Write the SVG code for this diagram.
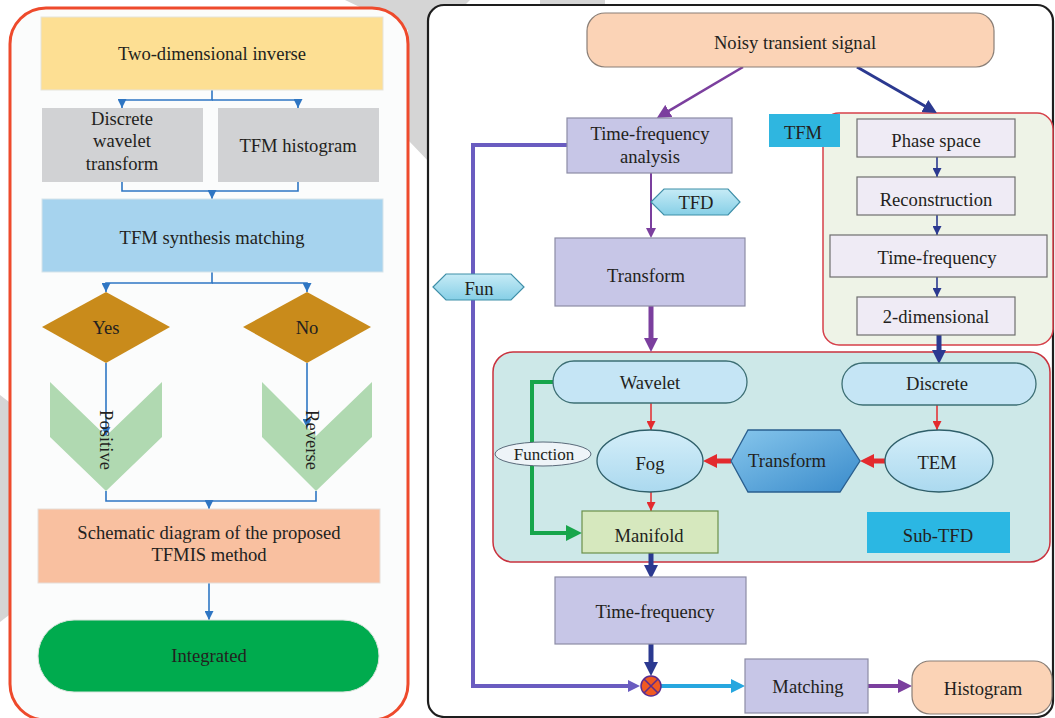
<svg xmlns="http://www.w3.org/2000/svg" width="1055" height="718" viewBox="0 0 1055 718">
<style>
.t{font-family:"Liberation Serif","Times New Roman",serif;font-size:18.6px;fill:#231f20;text-anchor:middle;dominant-baseline:central}
.s17{font-size:17px}
.lb{fill:none;stroke:#2f76c3;stroke-width:1.6}
.box{stroke:#8c8ca6;stroke-width:1.2}
.ps{fill:#efebf5;stroke:#6e6e6e;stroke-width:1.2}
</style>
<defs>
<marker id="mBlue" viewBox="0 0 10 10" refX="10" refY="5" markerWidth="9" markerHeight="9" markerUnits="userSpaceOnUse" orient="auto"><path d="M0,0L10,5L0,10z" fill="#2f76c3"/></marker>
<marker id="mPurL" viewBox="0 0 14 14" refX="1" refY="7" markerWidth="14" markerHeight="15" markerUnits="userSpaceOnUse" orient="auto"><path d="M0,0L14,7L0,14z" fill="#7b3f9e"/></marker>
<marker id="mPurS" viewBox="0 0 10 10" refX="1" refY="5" markerWidth="10" markerHeight="11" markerUnits="userSpaceOnUse" orient="auto"><path d="M0,0L10,5L0,10z" fill="#7b3f9e"/></marker>
<marker id="mNavL" viewBox="0 0 14 14" refX="1" refY="7" markerWidth="14" markerHeight="16" markerUnits="userSpaceOnUse" orient="auto"><path d="M0,0L14,7L0,14z" fill="#2b3990"/></marker>
<marker id="mNavS" viewBox="0 0 10 10" refX="10" refY="5" markerWidth="9" markerHeight="9" markerUnits="userSpaceOnUse" orient="auto"><path d="M0,0L10,5L0,10z" fill="#2b3990"/></marker>
<marker id="mRedS" viewBox="0 0 10 10" refX="10" refY="5" markerWidth="9" markerHeight="9" markerUnits="userSpaceOnUse" orient="auto"><path d="M0,0L10,5L0,10z" fill="#e32a2e"/></marker>
<marker id="mRedL" viewBox="0 0 14 14" refX="1" refY="7" markerWidth="14" markerHeight="16" markerUnits="userSpaceOnUse" orient="auto"><path d="M0,0L14,7L0,14z" fill="#e32a2e"/></marker>
<marker id="mGrn" viewBox="0 0 14 14" refX="1" refY="7" markerWidth="16" markerHeight="17" markerUnits="userSpaceOnUse" orient="auto"><path d="M0,0L14,7L0,14z" fill="#17a54b"/></marker>
<marker id="mFun" viewBox="0 0 12 12" refX="1" refY="6" markerWidth="12" markerHeight="13" markerUnits="userSpaceOnUse" orient="auto"><path d="M0,0L12,6L0,12z" fill="#6a5cc0"/></marker>
<marker id="mCyan" viewBox="0 0 14 14" refX="1" refY="7" markerWidth="14" markerHeight="15" markerUnits="userSpaceOnUse" orient="auto"><path d="M0,0L14,7L0,14z" fill="#27a7df"/></marker>
<linearGradient id="gHex" x1="0" y1="0" x2="1" y2="1"><stop offset="0" stop-color="#86c6ec"/><stop offset="1" stop-color="#3a8bcb"/></linearGradient>
<linearGradient id="gEl" x1="0" y1="0" x2="0" y2="1"><stop offset="0" stop-color="#d4eef9"/><stop offset="1" stop-color="#abd9ef"/></linearGradient>
<linearGradient id="gTfd" x1="0" y1="0" x2="0" y2="1"><stop offset="0" stop-color="#c6ebf6"/><stop offset="1" stop-color="#86cfe6"/></linearGradient>
</defs>
<rect width="1055" height="718" fill="#ffffff"/>
<g id="watermark" fill="#d5d5d5">
<polygon points="345,0 470,0 432,38 432,165 408,140 408,30"/>
<polygon points="540,0 605,0 605,6 540,6"/>
<polygon points="0,395 13,405 13,612 0,622"/>
</g>
<g id="panel-left"><rect x="10" y="8" width="398" height="712" rx="36" fill="#fbfcfc" stroke="#ee4a2c" stroke-width="3"/></g>
<g id="panel-right"><rect x="428" y="5" width="625" height="712" rx="16" fill="#ffffff" stroke="#1e1e1e" stroke-width="2.2"/></g>
<g id="tfm-group"><rect x="823" y="113" width="230" height="232" rx="16" fill="#eef3e7" stroke="#d6404a" stroke-width="1.5"/></g>
<g id="sub-tfd-group"><rect x="493" y="352" width="557" height="210" rx="20" fill="#cde8e8" stroke="#c9323e" stroke-width="1.5"/></g>

<g id="connectors">
<path class="lb" d="M212,90V100H122V108" marker-end="url(#mBlue)"/>
<path class="lb" d="M212,100H298V108" marker-end="url(#mBlue)"/>
<path class="lb" d="M122,182V191H298V182"/>
<path class="lb" d="M212,191V199" marker-end="url(#mBlue)"/>
<path class="lb" d="M212,272V283H106V292" marker-end="url(#mBlue)"/>
<path class="lb" d="M212,283H307V292" marker-end="url(#mBlue)"/>
<path class="lb" d="M106,363V436" marker-end="url(#mBlue)"/>
<path class="lb" d="M307,363V428" marker-end="url(#mBlue)"/>
<path class="lb" d="M106,491V501H316V491"/>
<path class="lb" d="M209,501V509" marker-end="url(#mBlue)"/>
<path class="lb" d="M209,583V620" marker-end="url(#mBlue)"/>

<path d="M743,67L668,111.4" stroke="#7b3f9e" stroke-width="2.6" fill="none" marker-end="url(#mPurL)"/>
<path d="M857,67L925.7,106.5" stroke="#2b3990" stroke-width="3" fill="none" marker-end="url(#mNavL)"/>
<path d="M651,173V229" stroke="#7b3f9e" stroke-width="2" fill="none" marker-end="url(#mPurS)"/>
<path d="M651,306V339" stroke="#7b3f9e" stroke-width="5" fill="none" marker-end="url(#mPurL)"/>
<path d="M567,145H473V686H629" stroke="#6a5cc0" stroke-width="4" fill="none" marker-end="url(#mFun)"/>
<path d="M937,157V177" stroke="#2b3990" stroke-width="1.6" fill="none" marker-end="url(#mNavS)"/>
<path d="M937,215V235" stroke="#2b3990" stroke-width="1.6" fill="none" marker-end="url(#mNavS)"/>
<path d="M937,277V297" stroke="#2b3990" stroke-width="1.6" fill="none" marker-end="url(#mNavS)"/>
<path d="M939,335V351" stroke="#2b3990" stroke-width="5" fill="none" marker-end="url(#mNavL)"/>
<path d="M651,403V430" stroke="#e32a2e" stroke-width="1.5" fill="none" marker-end="url(#mRedS)"/>
<path d="M651,492V511" stroke="#e32a2e" stroke-width="1.5" fill="none" marker-end="url(#mRedS)"/>
<path d="M937,405V430" stroke="#e32a2e" stroke-width="1.5" fill="none" marker-end="url(#mRedS)"/>
<path d="M885,461H873" stroke="#e32a2e" stroke-width="5" fill="none" marker-end="url(#mRedL)"/>
<path d="M731,461H716" stroke="#e32a2e" stroke-width="5" fill="none" marker-end="url(#mRedL)"/>
<path d="M553,382H532V533H567" stroke="#17a54b" stroke-width="4" fill="none" marker-end="url(#mGrn)"/>
<path d="M651,553V566" stroke="#2b3990" stroke-width="5" fill="none" marker-end="url(#mNavL)"/>
<path d="M651,644V663" stroke="#2b3990" stroke-width="5" fill="none" marker-end="url(#mNavL)"/>
<path d="M661,686H732" stroke="#27a7df" stroke-width="4" fill="none" marker-end="url(#mCyan)"/>
<path d="M868,686H899" stroke="#7b3f9e" stroke-width="4" fill="none" marker-end="url(#mPurL)"/>
</g>

<g id="two-dimensional-inverse"><rect x="41" y="17" width="342" height="73" fill="#fddf93" stroke="#e6e3da" stroke-width="1"/><text class="t" x="212" y="53">Two-dimensional inverse</text></g>
<g id="discrete-wavelet-transform"><rect x="42" y="108" width="161" height="74" fill="#d1d2d4"/><text class="t" x="122" y="118">Discrete</text><text class="t" x="122" y="140">wavelet</text><text class="t" x="122" y="163">transform</text></g>
<g id="tfm-histogram"><rect x="218" y="108" width="161" height="74" fill="#d1d2d4"/><text class="t" x="298" y="145">TFM histogram</text></g>
<g id="tfm-synthesis-matching"><rect x="42" y="199" width="341" height="73" fill="#a6d3ee" stroke="#d6e3ea" stroke-width="1"/><text class="t" x="212" y="237">TFM synthesis matching</text></g>
<g id="yes"><polygon points="42,327 106,292 170,327 106,363" fill="#c98b1b"/><text class="t" x="106" y="327">Yes</text></g>
<g id="no"><polygon points="243,327 307,292 371,327 307,363" fill="#c98b1b"/><text class="t" x="307" y="327">No</text></g>
<g id="positive"><polygon points="50,382 106,436 162,382 162,437 106,491 50,437" fill="#b0d9b1"/><text class="t" transform="translate(106,440) rotate(90)">Positive</text></g>
<g id="reverse"><polygon points="262,382 316,436 372,382 372,437 316,491 262,437" fill="#b0d9b1"/><text class="t" transform="translate(312,440) rotate(90)">Reverse</text></g>
<g id="schematic"><rect x="38" y="509" width="342" height="74" fill="#f9c0a0" stroke="#e6ddd8" stroke-width="1"/><text class="t" x="209" y="532">Schematic diagram of the proposed</text><text class="t" x="209" y="554">TFMIS method</text></g>
<g id="integrated"><rect x="38" y="620" width="341" height="72" rx="36" fill="#00ab4e" stroke="#d9e3dc" stroke-width="1"/><text class="t" x="209" y="655">Integrated</text></g>

<g id="noisy-transient-signal"><rect x="587" y="13" width="407" height="54" rx="18" fill="#fbd3b6" stroke="#8a7f77" stroke-width="1.2"/><text class="t" x="795" y="42">Noisy transient signal</text></g>
<g id="time-frequency-analysis"><rect x="567" y="118" width="165" height="55" fill="#c7c6e7" class="box"/><text class="t" x="650" y="133">Time-frequency</text><text class="t" x="650" y="156">analysis</text></g>
<g id="tfd"><polygon points="651,202 664,189 728,189 740,202 728,215 664,215" fill="url(#gTfd)" stroke="#3f8fa8" stroke-width="1.2"/><text class="t" x="696" y="202">TFD</text></g>
<g id="transform-box"><rect x="555" y="238" width="190" height="68" fill="#c7c6e7" class="box"/><text class="t" x="646" y="275">Transform</text></g>
<g id="fun"><polygon points="433,287 446,274 511,274 524,287 511,300 446,300" fill="url(#gTfd)" stroke="#3f8fa8" stroke-width="1.2"/><text class="t" x="479" y="288">Fun</text></g>

<g id="tfm-label"><rect x="769" y="114" width="71" height="33" fill="#2fb6e0"/><text class="t" x="803" y="132">TFM</text></g>
<g id="phase-space"><rect x="857" y="119" width="158" height="38" class="ps"/><text class="t" x="936" y="140">Phase space</text></g>
<g id="reconstruction"><rect x="857" y="177" width="158" height="38" class="ps"/><text class="t" x="936" y="199">Reconstruction</text></g>
<g id="time-frequency-tfm"><rect x="830" y="235" width="217" height="42" class="ps"/><text class="t" x="937" y="257">Time-frequency</text></g>
<g id="two-dimensional"><rect x="857" y="297" width="158" height="38" class="ps"/><text class="t" x="936" y="316">2-dimensional</text></g>

<g id="wavelet"><rect x="553" y="361" width="194" height="42" rx="21" fill="#c5e5f5" stroke="#3d6f74" stroke-width="1.3"/><text class="t" x="650" y="382">Wavelet</text></g>
<g id="discrete"><rect x="842" y="363" width="194" height="42" rx="21" fill="#c5e5f5" stroke="#3d6f74" stroke-width="1.3"/><text class="t" x="937" y="383">Discrete</text></g>
<g id="fog"><ellipse cx="650" cy="461" rx="53" ry="31" fill="url(#gEl)" stroke="#2f5f6a" stroke-width="1.3"/><text class="t" x="650" y="463">Fog</text></g>
<g id="tem"><ellipse cx="939" cy="461" rx="54" ry="31" fill="url(#gEl)" stroke="#2f5f6a" stroke-width="1.3"/><text class="t" x="937" y="462">TEM</text></g>
<g id="transform-hex"><polygon points="731,461 748,430 840,430 860,461 840,492 748,492" fill="url(#gHex)" stroke="#2a5f8f" stroke-width="1.3"/><text class="t" x="787" y="460">Transform</text></g>
<g id="function"><ellipse cx="543" cy="454" rx="48" ry="12" fill="#eef4f8" stroke="#5a6a7a" stroke-width="1"/><text class="t s17" x="544" y="454">Function</text></g>
<g id="manifold"><rect x="582" y="511" width="136" height="42" fill="#d6e8be" stroke="#6b8f4a" stroke-width="1.2"/><text class="t" x="649" y="535">Manifold</text></g>
<g id="sub-tfd-label"><rect x="867" y="512" width="143" height="41" fill="#2bb7e3"/><text class="t" x="938" y="535">Sub-TFD</text></g>

<g id="time-frequency-bottom"><rect x="555" y="577" width="191" height="67" fill="#c7c6e7" class="box"/><text class="t" x="655" y="611">Time-frequency</text></g>
<g id="multiplier"><circle cx="651" cy="686" r="10" fill="#f05a22" stroke="#5b2d8e" stroke-width="1.5"/><path d="M644,679L658,693M658,679L644,693" stroke="#5b2d8e" stroke-width="1.5"/></g>
<g id="matching"><rect x="745" y="659" width="123" height="54" fill="#c7c6e7" class="box"/><text class="t" x="808" y="686">Matching</text></g>
<g id="histogram"><rect x="912" y="661" width="140" height="53" rx="18" fill="#fbd3b6" stroke="#8a7f77" stroke-width="1.2"/><text class="t" x="983" y="688">Histogram</text></g>
</svg>
